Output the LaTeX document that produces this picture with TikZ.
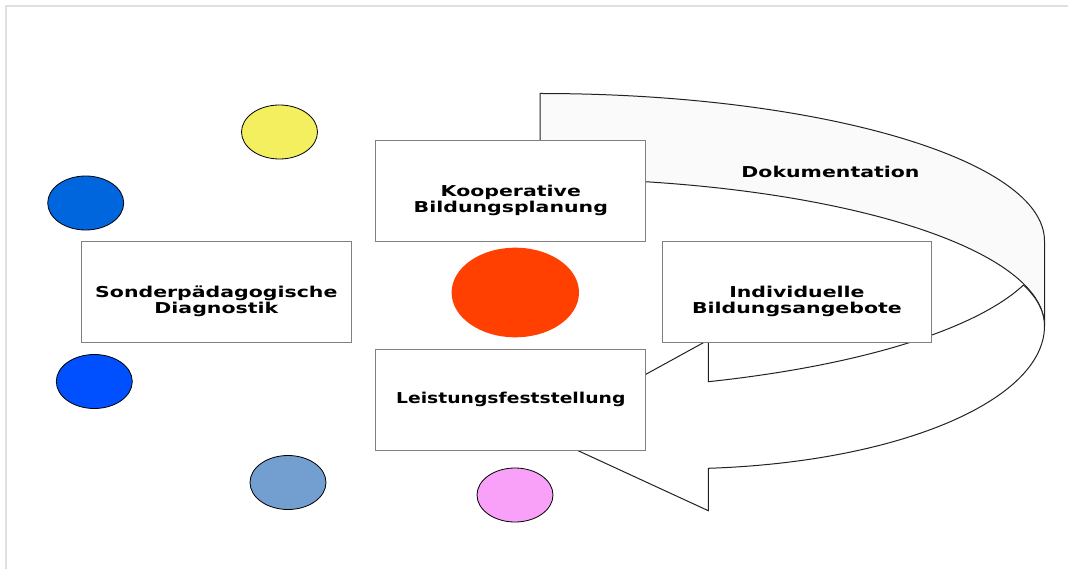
\documentclass[tikz,border=0pt]{standalone}
\usepackage{fontspec}
\setmainfont{DejaVu Sans}[FakeStretch = 1.365]
\usepackage{tikz}
\usetikzlibrary{shapes.geometric}
\definecolor{kastengrau}{HTML}{808080}
\definecolor{rahmengrau}{HTML}{E0E0E0}
\definecolor{bandgrau}{HTML}{FAFAFA}
\definecolor{bandlinie}{HTML}{222222}
\definecolor{gelb}{HTML}{F3EF5E}
\definecolor{dunkelblau}{HTML}{0066DD}
\definecolor{blau}{HTML}{0050FF}
\definecolor{hellblau}{HTML}{729FCF}
\definecolor{rosa}{HTML}{F9A0F9}
\definecolor{rot}{HTML}{FF4000}
\tikzstyle{kasten} = [
    rectangle,
    minimum width = 269.7pt,
    minimum height = 101pt,
    draw = kastengrau,
    fill = white,
    line width = 1pt,
]
\tikzstyle{punkt} = [
    ellipse,
    minimum width = 76pt,
    minimum height = 54pt,
    inner sep = 0pt,
    draw = black,
    line width = 0.8pt,
]
\tikzstyle{beschriftung} = [
    font = \bfseries\fontsize{15}{16.5}\selectfont,
    align = center,
    inner sep = 0pt,
]
\tikzstyle{band} = [draw = bandlinie, line width = 1pt] % Pfeilband "Dokumentation"

\begin{document}
\begin{tikzpicture} [x = 1pt, y = -1pt]
    \useasboundingbox (0,0) rectangle (1068,569);
    \draw[rahmengrau, line width = 1.5pt] (6,569) -- (6,6) -- (1068,6);

    % Band: Innenseite hinten
    \draw[band, fill = bandgrau] (540,93.5) .. controls (818.6,93.5) and (1044.5,159.5) .. (1044.5,241) -- (1044.5,326) .. controls (1044.5,244.5) and (818.6,178.5) .. (540,178.5) -- cycle;
    % Band: Vorderseite mit Spitze
    \coordinate (kreuzung) at (1023.5,285);
    \coordinate (spitze) at (539.3,432.8);
    \draw[band, fill = white] (kreuzung) .. controls (975.3,329.9) and (858.8,365.7) .. (708.3,381.7) -- (708.3,340) -- (spitze) -- (708.3,510.7) -- (708.3,468.3) .. controls (900,462) and (1044.5,400) .. (1044.5,326) .. controls (1044.5,312.2) and (1037.8,298.4) .. (kreuzung) -- cycle;
    \node (doku) [beschriftung] at (830.5,172) {Dokumentation};

    \node (sonder) [kasten] at (216.3,292.3) {};
    \node (koop) [kasten] at (510.8,191.2) {};
    \node (indiv) [kasten] at (796.9,292.2) {};
    \node (leistung) [kasten] at (510.8,399.5) {};

    \node (sonder-text) [beschriftung, yshift = -9pt] at (sonder) {Sonderpädagogische\\Diagnostik};
    \node (koop-text) [beschriftung, yshift = -9pt] at (koop) {Kooperative\\Bildungsplanung};
    \node (indiv-text) [beschriftung, yshift = -9pt] at (indiv) {Individuelle\\Bildungsangebote};
    \node (leistung-text) [beschriftung, xscale = 0.916, transform shape] at (leistung) {Leistungsfeststellung};

    \node (kreis-gelb) [punkt, fill = gelb] at (279.5,132) {};
    \node (kreis-dunkelblau) [punkt, fill = dunkelblau] at (85.7,203) {};
    \node (kreis-blau) [punkt, fill = blau] at (94.3,381.5) {};
    \node (kreis-hellblau) [punkt, fill = hellblau] at (288,482.5) {};
    \node (kreis-rosa) [punkt, fill = rosa] at (515,495) {};
    \node (kreis-rot) [punkt, draw = none, fill = rot, minimum width = 127.4pt, minimum height = 89.6pt] at (515.3,292.5) {};
\end{tikzpicture}
\end{document}
